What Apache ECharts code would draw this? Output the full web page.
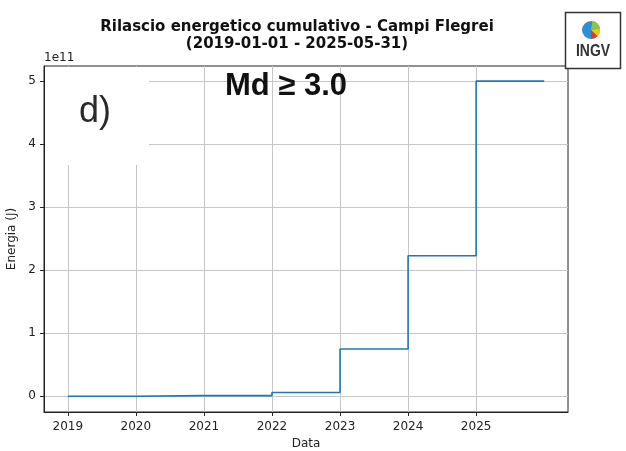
<!DOCTYPE html>
<html>
<head>
<meta charset="utf-8">
<script src="https://cdn.jsdelivr.net/npm/echarts@6/dist/echarts.min.js"></script>
<style>
html,body{margin:0;padding:0;background:#fff;}
#chart{width:626px;height:451px;}
</style>
</head>
<body>
<div id="chart"></div>
<script>
// ---- data ----
const titleLines = ['Rilascio energetico cumulativo - Campi Flegrei', '(2019-01-01 - 2025-05-31)'];
const years = [2019, 2020, 2021, 2022, 2023, 2024, 2025, 2026];
const energyJ = [0, 1.0e9, 1.0e9, 6.0e9, 7.5e10, 2.23e11, 5.0e11, 5.0e11];
const xTickYears = [2019, 2020, 2021, 2022, 2023, 2024, 2025];
const yTickValues = [0, 1e11, 2e11, 3e11, 4e11, 5e11];
const yScaleLabel = '1e11';
const xAxisName = 'Data';
const yAxisName = 'Energia (J)';
const panelLabel = 'd)';
const magLabel = 'Md \u2265 3.0';
const logoText = 'INGV';

const FONT = 'DejaVu Sans';
const chart = echarts.init(document.getElementById('chart'), null, {renderer: 'canvas'});

const seriesData = years.map((y, i) => [y, energyJ[i]]);

const option = {
  backgroundColor: '#ffffff',
  animation: false,
  grid: {
    left: 44, right: 58, top: 66, bottom: 39,
    show: true, borderColor: '#222', borderWidth: 1, backgroundColor: '#fff',
    containLabel: false,
    outerBoundsMode: 'none'
  },
  xAxis: {
    type: 'value',
    min: 2018.65, max: 2026.35,
    name: xAxisName, nameLocation: 'middle', nameGap: 26,
    nameTextStyle: {fontFamily: FONT, fontSize: 12, color: '#222'},
    axisLine: {show: true, onZero: false, lineStyle: {color: '#222', width: 1}},
    axisTick: {show: true, inside: false, length: 4, lineStyle: {color: '#222', width: 1}, customValues: xTickYears},
    axisLabel: {customValues: xTickYears, fontFamily: FONT, fontSize: 12, color: '#222', margin: 9,
      formatter: v => String(Math.round(v))},
    splitLine: {show: true, lineStyle: {color: '#c6c6c6', width: 1}}
  },
  yAxis: {
    type: 'value',
    min: -0.25e11, max: 5.24e11,
    name: yAxisName, nameLocation: 'middle', nameGap: 23, nameRotate: 90,
    nameTextStyle: {fontFamily: FONT, fontSize: 12, color: '#222'},
    axisLine: {show: true, onZero: false, lineStyle: {color: '#222', width: 1}},
    axisTick: {show: true, inside: false, length: 4, lineStyle: {color: '#222', width: 1}, customValues: yTickValues},
    axisLabel: {customValues: yTickValues, fontFamily: FONT, fontSize: 12, color: '#222', margin: 8,
      formatter: v => String(Math.round(v / 1e11))},
    splitLine: {show: true, lineStyle: {color: '#c6c6c6', width: 1}}
  },
  series: [{
    type: 'line',
    step: 'end',
    data: seriesData,
    symbol: 'none',
    lineStyle: {color: '#1f77b4', width: 1.6},
    z: 5
  }],
  graphic: [
    {type: 'text', x: 297, y: 27, z: 100, style: {text: titleLines[0], font: 'bold 15px "DejaVu Sans"', fill: '#111', align: 'center', verticalAlign: 'middle'}},
    {type: 'text', x: 297, y: 44.5, z: 100, style: {text: titleLines[1], font: 'bold 15px "DejaVu Sans"', fill: '#111', align: 'center', verticalAlign: 'middle'}},
    {type: 'text', x: 44, y: 58, z: 100, style: {text: yScaleLabel, font: '12px "DejaVu Sans"', fill: '#222', align: 'left', verticalAlign: 'middle'}},
    {type: 'rect', z: 100, shape: {x: 45, y: 67, width: 104, height: 98}, style: {fill: '#fff'}},
    {type: 'text', x: 95, y: 112, z: 101, style: {text: panelLabel, font: '36px "Liberation Sans"', fill: '#2a2a2a', align: 'center', verticalAlign: 'middle'}},
    {type: 'text', x: 286, y: 86, z: 101, style: {text: magLabel, font: 'bold 31px "Liberation Sans"', fill: '#111', align: 'center', verticalAlign: 'middle'}},
    {type: 'rect', z: 110, shape: {x: 565.5, y: 12.5, width: 55, height: 56}, style: {fill: '#fff', stroke: '#333', lineWidth: 1.5}},
    {type: 'circle', z: 111, shape: {cx: 591, cy: 30, r: 9}, style: {fill: '#2f8fd0'}},
    {type: 'sector', z: 112, shape: {cx: 591, cy: 30, r: 9, startAngle: -Math.PI * 0.45, endAngle: -Math.PI * 0.05}, style: {fill: '#8cc63f'}},
    {type: 'sector', z: 112, shape: {cx: 591, cy: 30, r: 9, startAngle: -Math.PI * 0.05, endAngle: Math.PI * 0.25}, style: {fill: '#f2c318'}},
    {type: 'sector', z: 112, shape: {cx: 591, cy: 30, r: 9, startAngle: Math.PI * 0.25, endAngle: Math.PI * 0.5}, style: {fill: '#e03a2f'}},
    {type: 'text', x: 593, y: 51, z: 111, scaleX: 0.82, style: {text: logoText, font: 'bold 17px "Liberation Sans"', fill: '#333', align: 'center', verticalAlign: 'middle'}}
  ]
};
chart.setOption(option);
</script>
</body>
</html>
